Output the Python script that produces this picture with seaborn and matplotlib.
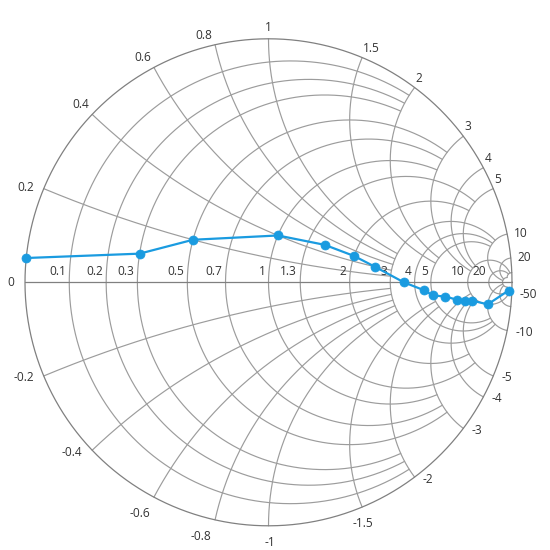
import numpy as np
import pandas as pd
import matplotlib
matplotlib.use("Agg")
import matplotlib.pyplot as plt
import seaborn as sns

# ---- data (impedance: resistance + j*reactance) ----
resistance = [0, 0.3, 0.5, 1.0, 1.5, 2.0, 2.5, 3.5, 4.5, 5.0, 6.0, 7.0, 8.0, 9.0, 10, 20]
reactance = [0.05, 0.1, 0.2, 0.4, 0.5, 0.5, 0.4, 0.0, -0.5, -1.0, -1.5, -2.5, -3.5, -4.5, -10, -50]

# ---- axis labels ----
r_labels = [0, 0.1, 0.2, 0.3, 0.5, 0.7, 1, 1.3, 2, 3, 4, 5, 10, 20, 50]
x_labels = [0.2, 0.4, 0.6, 0.8, 1, 1.5, 2, 3, 4, 5, 10, 20, 50]

W = H = 550
CX, CY, RAD = 268.5, 282.3, 243.5
GRID = "#9c9c9c"
DARK = "#808080"
SERIES = "#1a9be0"
TXT = "#333333"


def gamma(r, x):
    z = np.asarray(r, dtype=float) + 1j * np.asarray(x, dtype=float)
    g = (z - 1) / (z + 1)
    return g.real, g.imag


def r_limit(r):
    if r <= 0.3:
        return 2
    if r <= 1:
        return 3
    if r <= 2:
        return 5
    if r <= 5:
        return 10
    return 50


def x_limit(x):
    x = abs(x)
    if x <= 1:
        return 3
    if x <= 2:
        return 5
    if x <= 5:
        return 10
    return 50


sns.set_theme(style="white")
plt.rcParams['font.family'] = ['Open Sans', 'DejaVu Sans']

fig = plt.figure(figsize=(5.5, 5.5), dpi=100)
ax = fig.add_axes([0, 0, 1, 1])

lw = 0.85
# resistance circles
for r in r_labels[1:]:
    c = r_limit(r)
    t = np.linspace(-c, c, 4000)
    gx, gy = gamma(np.full_like(t, r), t)
    ax.plot(gx, gy, color=GRID, lw=lw, zorder=1)

# reactance arcs
for x in x_labels:
    c = x_limit(x)
    s = np.linspace(0, c, 4000)
    for sgn in (1, -1):
        gx, gy = gamma(s, np.full_like(s, sgn * x))
        ax.plot(gx, gy, color=GRID, lw=lw, zorder=1)

# outer circle and real axis
th = np.linspace(0, 2 * np.pi, 1000)
ax.plot(np.cos(th), np.sin(th), color=DARK, lw=0.9, zorder=2)
ax.plot([-1, 1], [0, 0], color=DARK, lw=0.9, zorder=2)

fs = 8.6
# horizontal (resistance) labels
for r in r_labels:
    gx, gy = gamma(r, 0)
    if r == 0:
        ax.annotate("0", (gx, gy), xytext=(-11, 0), textcoords='offset pixels',
                    ha='right', va='center', fontsize=fs, color=TXT)
    elif r == r_labels[-1]:
        continue
    else:
        ax.annotate(f"{r:g}", (gx, gy), xytext=(-3, 4), textcoords='offset pixels',
                    ha='right', va='bottom', fontsize=fs, color=TXT)

# radial (reactance) labels
shown = []
all_x = sorted([-v for v in x_labels] + x_labels)
for x in all_x:
    gx, gy = gamma(0, x)
    phi = np.degrees(np.arctan2(gy, gx))
    a = abs(phi)
    txt = f"{x:g}"
    w = 6.3 * len(txt)
    h = 14
    if phi > 0:
        if a < 15:
            ha, va, dx, dy = 'left', 'center', 7, 1
        elif a < 89:
            ha, va, dx, dy = 'left', 'bottom', 1, 3
        elif a < 91:
            ha, va, dx, dy = 'center', 'bottom', 0, 5
        elif a < 150:
            ha, va, dx, dy = 'right', 'bottom', -3, 3
        else:
            ha, va, dx, dy = 'right', 'center', -10, 1
    else:
        if a < 60:
            ha, va, dx, dy = 'left', 'center', 8, -2
        elif a <= 91:
            ha, va, dx, dy = 'center', 'top', 1, -10
        elif a < 125:
            ha, va, dx, dy = 'center', 'top', -14, -10
        else:
            ha, va, dx, dy = 'right', 'center', -10, -2
    px = CX + RAD * gx + dx
    py = (CY - RAD * gy) - dy
    x0 = {'left': px, 'center': px - w / 2, 'right': px - w}[ha]
    y0 = {'top': py, 'center': py - h / 2, 'bottom': py - h}[va]
    box = (x0, y0, x0 + w, y0 + h)
    pad = 3
    if any(not (box[2] + pad <= b[0] or b[2] + pad <= box[0] or box[3] + pad <= b[1] or b[3] + pad <= box[1])
           for b in shown):
        continue
    shown.append(box)
    ax.annotate(txt, (gx, gy), xytext=(dx, dy), textcoords='offset pixels',
                ha=ha, va=va, fontsize=fs, color=TXT)

# series
sx, sy = gamma(resistance, reactance)
df = pd.DataFrame({"gx": sx, "gy": sy})
sns.lineplot(data=df, x="gx", y="gy", sort=False, estimator=None, ax=ax,
             color=SERIES, linewidth=1.6, marker='o', markersize=6.5,
             markeredgecolor=SERIES, markeredgewidth=0.5, zorder=5, legend=False)
ax.set_xlim(-CX / RAD, (W - CX) / RAD)
ax.set_ylim((CY - H) / RAD, CY / RAD)
ax.axis('off')

fig.savefig("out.png", dpi=100, facecolor='white')
